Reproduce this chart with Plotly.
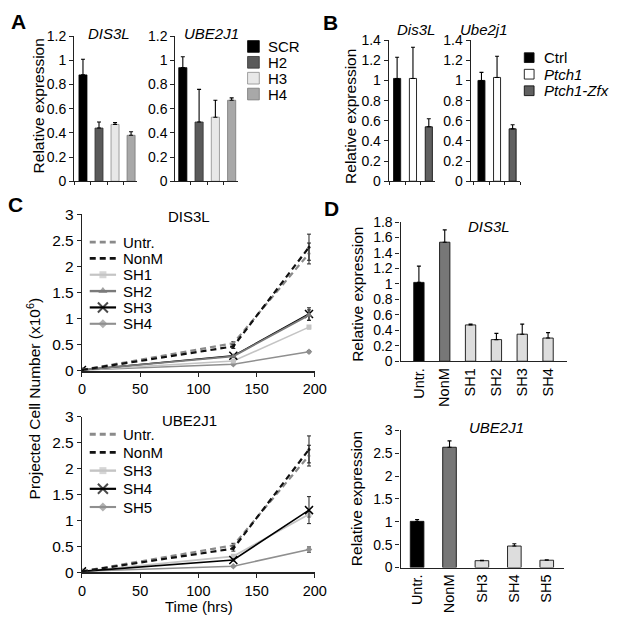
import plotly.graph_objects as go

# ---------------- DATA ----------------
# Panel A
a_groups = ["SCR", "H2", "H3", "H4"]
a_dis3l = [0.88, 0.44, 0.47, 0.38]
a_dis3l_err = [0.13, 0.05, 0.015, 0.03]
a_ube2j1 = [0.94, 0.49, 0.53, 0.67]
a_ube2j1_err = [0.09, 0.27, 0.14, 0.02]

# Panel B
b_groups = ["Ctrl", "Ptch1", "Ptch1-Zfx"]
b_dis3l = [1.02, 1.02, 0.54]
b_dis3l_err = [0.21, 0.31, 0.08]
b_ube2j1 = [1.00, 1.03, 0.52]
b_ube2j1_err = [0.08, 0.21, 0.04]

# Panel C
c_time = [0, 130, 195]
c_x_ticks = [0, 50, 100, 150, 200]
c1_names = ["Untr.", "NonM", "SH1", "SH2", "SH3", "SH4"]
c1_untr = [0.02, 0.53, 2.25]
c1_untr_err = [0, 0.03, 0.2]
c1_nonm = [0.02, 0.47, 2.37]
c1_nonm_err = [0, 0.04, 0.25]
c1_sh1 = [0.02, 0.19, 0.84]
c1_sh1_err = [0, 0.01, 0.03]
c1_sh2 = [0.02, 0.28, 1.07]
c1_sh2_err = [0, 0.02, 0.1]
c1_sh3 = [0.02, 0.29, 1.09]
c1_sh3_err = [0, 0.02, 0.12]
c1_sh4 = [0.02, 0.13, 0.37]
c1_sh4_err = [0, 0.01, 0.02]

c2_names = ["Untr.", "NonM", "SH3", "SH4", "SH5"]
c2_untr = [0.02, 0.52, 2.25]
c2_untr_err = [0, 0.04, 0.2]
c2_nonm = [0.02, 0.46, 2.37]
c2_nonm_err = [0, 0.05, 0.26]
c2_sh3 = [0.02, 0.31, 1.12]
c2_sh3_err = [0, 0.02, 0.05]
c2_sh4 = [0.02, 0.24, 1.2]
c2_sh4_err = [0, 0.02, 0.26]
c2_sh5 = [0.02, 0.12, 0.44]
c2_sh5_err = [0, 0.01, 0.05]

# Panel D
d1_groups = ["Untr.", "NonM", "SH1", "SH2", "SH3", "SH4"]
d1_vals = [1.02, 1.54, 0.47, 0.28, 0.35, 0.30]
d1_err = [0.21, 0.16, 0.01, 0.08, 0.13, 0.07]
d2_groups = ["Untr.", "NonM", "SH3", "SH4", "SH5"]
d2_vals = [1.01, 2.63, 0.15, 0.47, 0.16]
d2_err = [0.04, 0.14, 0.01, 0.05, 0.01]

# ---------------- STYLE ----------------
W, H = 624, 631
FONT = "Liberation Sans, Arial, Helvetica, sans-serif"
AX = "#222222"
a_colors = ["#000000", "#5a5a5a", "#e8e8e8", "#a8a8a8"]
a_lines = ["#000000", "#333333", "#8a8a8a", "#777777"]
b_colors = ["#000000", "#ffffff", "#606060"]
d1_colors = ["#000000", "#777777"] + ["#dddddd"] * 4
d2_colors = ["#000000", "#777777"] + ["#dddddd"] * 3


def fx(x):
    return x / W


def fy(y):
    return 1 - y / H


def xdom(x0, x1):
    return [fx(x0), fx(x1)]


def ydom(y0, y1):
    return [fy(y1), fy(y0)]


fig = go.Figure()

layout = dict(
    width=W, height=H, margin=dict(l=0, r=0, t=0, b=0),
    paper_bgcolor="white", plot_bgcolor="rgba(0,0,0,0)",
    showlegend=False, barmode="overlay",
    font=dict(family=FONT, size=14, color="black"),
)


def yaxis(dom, rng, dtick, anchor, size=14):
    return dict(domain=dom, range=rng, dtick=dtick, anchor=anchor,
                showline=True, linecolor=AX, linewidth=1.3, ticks="outside",
                ticklen=4, tickwidth=1.2, tickcolor=AX, showgrid=False,
                zeroline=False, tickfont=dict(size=size, family=FONT),
                fixedrange=True)


def xcat(dom, rng, anchor, labels=False, ticks="outside"):
    return dict(domain=dom, range=rng, anchor=anchor, type="category",
                showline=True, linecolor=AX, linewidth=1.3,
                ticks=ticks, tickson="boundaries", ticklen=3, tickcolor=AX,
                tickwidth=1, showgrid=False, zeroline=False,
                showticklabels=labels, tickangle=-90,
                tickfont=dict(size=14.5, family=FONT), fixedrange=True)


# Axes
layout["xaxis"] = xcat(xdom(72, 137), [-0.55, 3.4], "y")
layout["yaxis"] = yaxis(ydom(28, 177), [0, 1.2], 0.2, "x")
layout["xaxis2"] = xcat(xdom(176, 240), [-0.45, 3.38], "y2")
layout["yaxis2"] = yaxis(ydom(28, 177), [0, 1.2], 0.2, "x2")
layout["xaxis3"] = xcat(xdom(395, 442), [-0.52, 2.37], "y3")
layout["yaxis3"] = yaxis(ydom(32, 177), [0, 1.4], 0.2, "x3")
layout["xaxis4"] = xcat(xdom(479, 530), [-0.69, 2.5], "y4")
layout["yaxis4"] = yaxis(ydom(32, 177), [0, 1.4], 0.2, "x4")
for i, (y0, y1) in zip((5, 6), ((211, 372), (419, 579))):
    layout[f"xaxis{i}"] = dict(domain=xdom(80, 319), range=[0, 200],
                               tickvals=c_x_ticks, anchor=f"y{i}",
                               showline=True, linecolor=AX, linewidth=1.5,
                               ticks="outside", ticklen=4, tickcolor=AX,
                               showgrid=False, zeroline=False,
                               tickfont=dict(size=14.5, family=FONT),
                               fixedrange=True)
    layout[f"yaxis{i}"] = yaxis(ydom(y0, y1), [0, 3], 0.5, f"x{i}", size=15.5)
layout["xaxis7"] = xcat(xdom(407, 578), [-0.71, 5.74], "y7", labels=True, ticks="")
layout["yaxis7"] = yaxis(ydom(219, 362), [0, 1.8], 0.2, "x7")
layout["xaxis8"] = xcat(xdom(407, 575), [-0.51, 4.54], "y8", labels=True, ticks="")
layout["yaxis8"] = yaxis(ydom(433, 574), [0, 3], 0.5, "x8")
# overlay pixel axis for hand-made legend keys
layout["xaxis9"] = dict(domain=[0, 1], range=[0, W], visible=False, anchor="y9",
                        fixedrange=True)
layout["yaxis9"] = dict(domain=[0, 1], range=[H, 0], visible=False, anchor="x9",
                        fixedrange=True)


def err(arr, up_only=True):
    return dict(type="data", array=arr, arrayminus=[0] * len(arr) if up_only else arr,
                symmetric=not up_only, color="black", thickness=1.1, width=2)


# Panel A bars
for vals, errs, xa, ya in ((a_dis3l, a_dis3l_err, "x", "y"),
                           (a_ube2j1, a_ube2j1_err, "x2", "y2")):
    for g, v, e, c, lc in zip(a_groups, vals, errs, a_colors, a_lines):
        fig.add_trace(go.Bar(x=[g], y=[v], width=0.5, name=g, xaxis=xa, yaxis=ya,
                             marker=dict(color=c, line=dict(color=lc, width=0.8)),
                             error_y=err([e])))

# Panel B bars
for vals, errs, xa, ya in ((b_dis3l, b_dis3l_err, "x3", "y3"),
                           (b_ube2j1, b_ube2j1_err, "x4", "y4")):
    for g, v, e, c in zip(b_groups, vals, errs, b_colors):
        fig.add_trace(go.Bar(x=[g], y=[v], width=0.45, name=g, xaxis=xa, yaxis=ya,
                             marker=dict(color=c, line=dict(color="#111", width=0.9)),
                             error_y=err([e])))

# Panel C lines
c1_styles = {
    "Untr.": dict(color="#8a8a8a", dash="6px,4px", width=2.2, symbol="circle", msize=3),
    "NonM": dict(color="#111111", dash="6px,4px", width=2.2, symbol="circle", msize=3),
    "SH1": dict(color="#c4c4c4", dash="solid", width=1.6, symbol="square", msize=5),
    "SH2": dict(color="#7a7a7a", dash="solid", width=1.8, symbol="triangle-up", msize=6),
    "SH3": dict(color="#000000", dash="solid", width=1.6, symbol="x-thin", msize=8),
    "SH4": dict(color="#8f8f8f", dash="solid", width=1.5, symbol="diamond", msize=5),
}
c2_styles = {
    "Untr.": c1_styles["Untr."],
    "NonM": c1_styles["NonM"],
    "SH3": dict(color="#c4c4c4", dash="solid", width=1.8, symbol="square", msize=5),
    "SH4": dict(color="#000000", dash="solid", width=1.6, symbol="x-thin", msize=8),
    "SH5": dict(color="#8f8f8f", dash="solid", width=1.5, symbol="diamond", msize=5),
}


def line_trace(name, y, e, st, xa, ya):
    is_x = st["symbol"] == "x-thin"
    return go.Scatter(
        x=c_time, y=y, name=name, xaxis=xa, yaxis=ya, mode="lines+markers",
        line=dict(color=st["color"], dash=st["dash"], width=st["width"]),
        marker=dict(symbol=st["symbol"], size=st["msize"], color=st["color"],
                    line=dict(color=st["color"], width=1.5 if is_x else 0)),
        error_y=dict(type="data", array=e, color="#222", thickness=1, width=2),
    )


c1_data = [("SH4", c1_sh4, c1_sh4_err), ("SH1", c1_sh1, c1_sh1_err),
           ("SH3", c1_sh3, c1_sh3_err), ("SH2", c1_sh2, c1_sh2_err),
           ("Untr.", c1_untr, c1_untr_err), ("NonM", c1_nonm, c1_nonm_err)]
for n, y, e in c1_data:
    fig.add_trace(line_trace(n, y, e, c1_styles[n], "x5", "y5"))

c2_data = [("SH5", c2_sh5, c2_sh5_err), ("SH3", c2_sh3, c2_sh3_err),
           ("SH4", c2_sh4, c2_sh4_err), ("Untr.", c2_untr, c2_untr_err),
           ("NonM", c2_nonm, c2_nonm_err)]
for n, y, e in c2_data:
    fig.add_trace(line_trace(n, y, e, c2_styles[n], "x6", "y6"))

# Panel D bars
fig.add_trace(go.Bar(x=d1_groups, y=d1_vals, width=0.4, xaxis="x7", yaxis="y7",
                     marker=dict(color=d1_colors, line=dict(color="#111", width=0.9)),
                     error_y=err(d1_err)))
fig.add_trace(go.Bar(x=d2_groups, y=d2_vals, width=0.42, xaxis="x8", yaxis="y8",
                     marker=dict(color=d2_colors, line=dict(color="#111", width=0.9)),
                     error_y=err(d2_err)))

# ---------------- ANNOTATIONS / LEGENDS ----------------
ann = []
shapes = []


def text(x, y, s, size=14, italic=False, bold=False, angle=0, xanchor="center", yanchor="middle"):
    if italic:
        s = f"<i>{s}</i>"
    if bold:
        s = f"<b>{s}</b>"
    ann.append(dict(x=fx(x), y=fy(y), xref="paper", yref="paper", text=s, showarrow=False,
                    font=dict(size=size, family=FONT, color="black"), textangle=angle,
                    xanchor=xanchor, yanchor=yanchor))


# panel letters
text(15, 13, "A", size=21, bold=True)
text(335, 14, "B", size=21, bold=True)
text(12, 201, "C", size=21, bold=True)
text(336, 205, "D", size=21, bold=True)

# subplot titles
text(108, 25, "DIS3L", size=15, italic=True)
text(213, 25, "UBE2J1", size=15, italic=True)
text(423, 21, "Dis3L", size=15, italic=True)
text(493, 21, "Ube2j1", size=15, italic=True)
text(190, 213, "DIS3L", size=15)
text(190, 423, "UBE2J1", size=15)
text(498, 224, "DIS3L", size=15, italic=True)
text(505, 430, "UBE2J1", size=15, italic=True)

# axis titles
text(35, 100, "Relative expression", size=15.5, angle=-90)
text(355, 110, "Relative expression", size=15.5, angle=-90)
text(31, 400, "Projected Cell Number (x10<sup>6</sup>)", size=15.5, angle=-90)
text(200, 614, "Time (hrs)", size=15)
text(362, 293, "Relative expression", size=15.5, angle=-90)
text(362, 503, "Relative expression", size=15.5, angle=-90)

# legend A
for i, (g, c, lc) in enumerate(zip(a_groups, a_colors, a_lines)):
    yc = 38.5 + 16.3 * i
    shapes.append(dict(type="rect", xref="paper", yref="paper",
                       x0=fx(250), x1=fx(262), y0=fy(yc + 6), y1=fy(yc - 6),
                       fillcolor=c, line=dict(color=lc, width=0.8)))
    text(269, yc, g, size=15, xanchor="left")

# legend B
for i, (g, c) in enumerate(zip(b_groups, b_colors)):
    yc = 50 + 17 * i
    shapes.append(dict(type="rect", xref="paper", yref="paper",
                       x0=fx(534), x1=fx(544), y0=fy(yc + 5), y1=fy(yc - 5),
                       fillcolor=c, line=dict(color="#111", width=0.9)))
    text(552, yc, g, size=15, italic=(g != "Ctrl"), xanchor="left")

# legends C
for names, styles, y0, dy in ((c1_names, c1_styles, 239.5, 16.8),
                              (c2_names, c2_styles, 437, 18.7)):
    for i, n in enumerate(names):
        st = styles[n]
        yc = y0 + dy * i
        is_x = st["symbol"] == "x-thin"
        fig.add_trace(go.Scatter(
            x=[88, 101.5, 115], y=[yc, yc, yc], xaxis="x9", yaxis="y9",
            mode="lines+markers", hoverinfo="skip",
            line=dict(color=st["color"], dash=st["dash"], width=st["width"] + 0.6),
            marker=dict(symbol=st["symbol"], size=[0, st["msize"] + 2 if st["msize"] > 3 else 0, 0],
                        color=st["color"], line=dict(color=st["color"], width=2 if is_x else 0)),
        ))
        text(120, yc, n, size=15, xanchor="left")

layout["annotations"] = ann
layout["shapes"] = shapes
fig.update_layout(**layout)
fig.write_html(
    "out.html",
    config={"displayModeBar": False},
    post_script="document.body.style.margin='0';document.body.style.overflow='hidden';",
)
